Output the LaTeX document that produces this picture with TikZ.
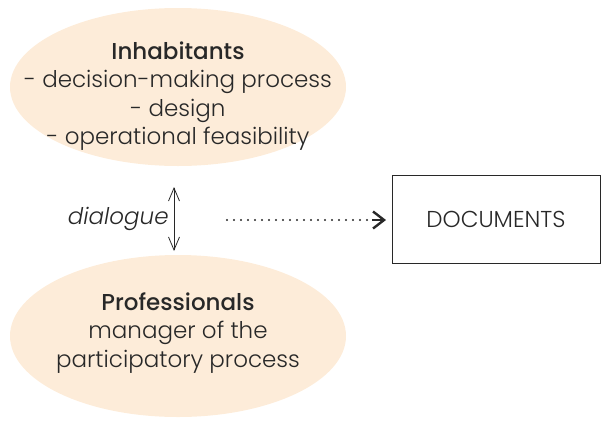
\documentclass[tikz,border=0pt]{standalone}
\usepackage{fontspec}
\setmainfont{Poppins}[UprightFont=* Light, BoldFont=* Medium, ItalicFont=* Light Italic]
\usetikzlibrary{arrows.meta}
\definecolor{peach}{RGB}{253,236,217}
\definecolor{ink}{RGB}{40,40,40}
\tikzset{
  actortext/.style={align=center, font=\fontsize{23}{28.5}\selectfont, text=ink, inner sep=0pt},
  docbox/.style={draw=ink, line width=0.8pt, rectangle, minimum width=208pt, minimum height=88pt,
    font=\fontsize{23}{28}\selectfont, text=ink}
}
\begin{document}
\begin{tikzpicture}[x=1pt,y=-1pt]
          \useasboundingbox (0,0) rectangle (609,426); %
          % the two groups
          \fill[peach] (178,87) ellipse[x radius=168, y radius=79]; %
          \fill[peach] (178,336) ellipse[x radius=168, y radius=81]; %
          \node[actortext] (inh) at (178,96) {\textbf{Inhabitants}\\- decision-making process\\- design\\- operational feasibility}; %
          \node[actortext] (pro) at (178,333) {\textbf{Professionals}\\manager of the\\participatory process}; %
          \node[docbox] (doc) at (496,219) {DOCUMENTS}; %
          \coordinate (top) at (174,187); %
          \coordinate (bot) at (174,251); %
          \draw[ink, line width=0.8pt, {Straight Barb[length=13pt,width=11pt,line width=0.8pt]}-{Straight Barb[length=13pt,width=11pt,line width=0.8pt]}] (top) -- node[left, inner sep=5pt, font=\fontsize{23}{28}\selectfont\itshape]{dialogue} (bot); %
          \coordinate (src) at (227,220); %
          \coordinate (tip) at (386,220); %
          \draw[ink, line width=2.2pt, line cap=round, dash pattern=on 0pt off 7pt, shorten >=12pt] (src) -- (tip); %
          \draw[ink, line width=2.4pt, -{Straight Barb[length=11pt,width=17pt,line width=2.4pt]}] ([xshift=-14pt]tip) -- (tip); %
        \end{tikzpicture}
\end{document}
